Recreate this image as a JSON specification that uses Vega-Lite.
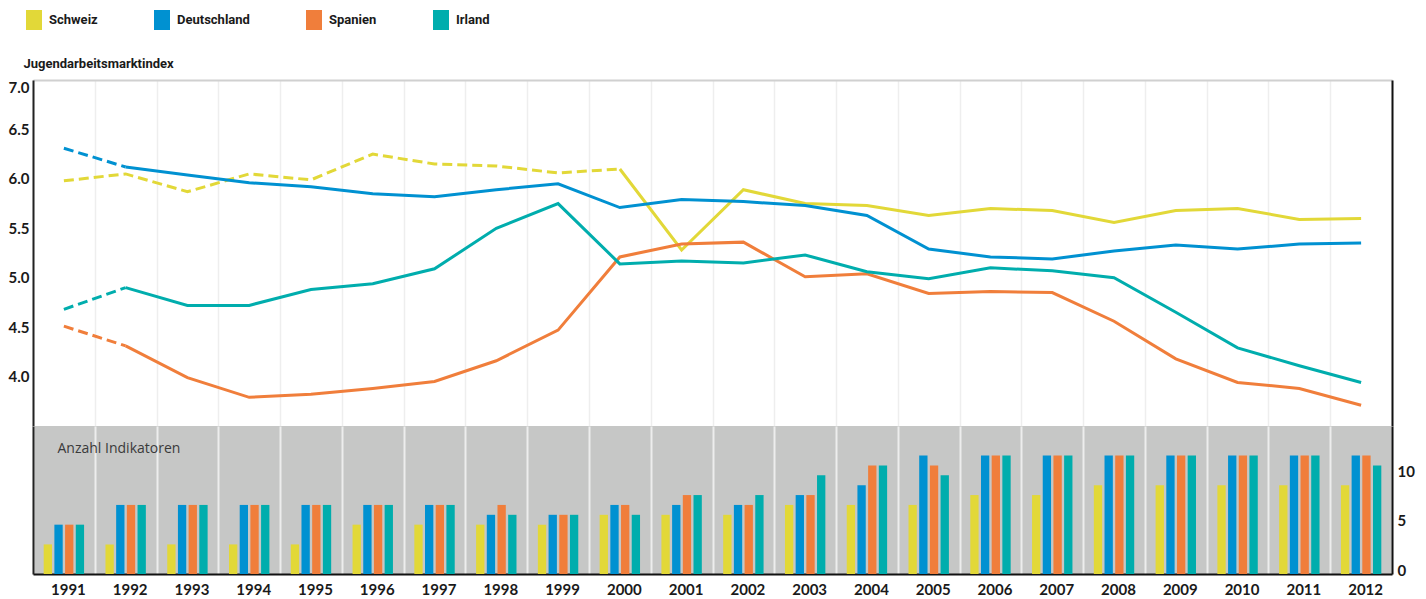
{
  "$schema": "https://vega.github.io/schema/vega-lite/v6.json",
  "padding": {"left": 8, "top": 10, "right": 11, "bottom": 2},
  "background": "white",
  "spacing": 0,
  "config": {
    "view": {"stroke": null},
    "font": "Lato",
    "axis": {"labelFont": "Lato", "labelFontWeight": "bold", "labelFontSize": 15, "labelColor": "#1a1a1a", "ticks": false, "domainColor": "#222222", "domainWidth": 2}
  },
  "datasets": {
    "index": [
      {"land": "Schweiz", "jahr": 1991, "wert": 5.98}, {"land": "Schweiz", "jahr": 1992, "wert": 6.05}, {"land": "Schweiz", "jahr": 1993, "wert": 5.87}, {"land": "Schweiz", "jahr": 1994, "wert": 6.05}, {"land": "Schweiz", "jahr": 1995, "wert": 5.99}, {"land": "Schweiz", "jahr": 1996, "wert": 6.25}, {"land": "Schweiz", "jahr": 1997, "wert": 6.15}, {"land": "Schweiz", "jahr": 1998, "wert": 6.13}, {"land": "Schweiz", "jahr": 1999, "wert": 6.06}, {"land": "Schweiz", "jahr": 2000, "wert": 6.10}, {"land": "Schweiz", "jahr": 2001, "wert": 5.28}, {"land": "Schweiz", "jahr": 2002, "wert": 5.89}, {"land": "Schweiz", "jahr": 2003, "wert": 5.75}, {"land": "Schweiz", "jahr": 2004, "wert": 5.73}, {"land": "Schweiz", "jahr": 2005, "wert": 5.63}, {"land": "Schweiz", "jahr": 2006, "wert": 5.70}, {"land": "Schweiz", "jahr": 2007, "wert": 5.68}, {"land": "Schweiz", "jahr": 2008, "wert": 5.56}, {"land": "Schweiz", "jahr": 2009, "wert": 5.68}, {"land": "Schweiz", "jahr": 2010, "wert": 5.70}, {"land": "Schweiz", "jahr": 2011, "wert": 5.59}, {"land": "Schweiz", "jahr": 2012, "wert": 5.60},
      {"land": "Deutschland", "jahr": 1991, "wert": 6.31}, {"land": "Deutschland", "jahr": 1992, "wert": 6.12}, {"land": "Deutschland", "jahr": 1993, "wert": 6.04}, {"land": "Deutschland", "jahr": 1994, "wert": 5.96}, {"land": "Deutschland", "jahr": 1995, "wert": 5.92}, {"land": "Deutschland", "jahr": 1996, "wert": 5.85}, {"land": "Deutschland", "jahr": 1997, "wert": 5.82}, {"land": "Deutschland", "jahr": 1998, "wert": 5.89}, {"land": "Deutschland", "jahr": 1999, "wert": 5.95}, {"land": "Deutschland", "jahr": 2000, "wert": 5.71}, {"land": "Deutschland", "jahr": 2001, "wert": 5.79}, {"land": "Deutschland", "jahr": 2002, "wert": 5.77}, {"land": "Deutschland", "jahr": 2003, "wert": 5.73}, {"land": "Deutschland", "jahr": 2004, "wert": 5.63}, {"land": "Deutschland", "jahr": 2005, "wert": 5.29}, {"land": "Deutschland", "jahr": 2006, "wert": 5.21}, {"land": "Deutschland", "jahr": 2007, "wert": 5.19}, {"land": "Deutschland", "jahr": 2008, "wert": 5.27}, {"land": "Deutschland", "jahr": 2009, "wert": 5.33}, {"land": "Deutschland", "jahr": 2010, "wert": 5.29}, {"land": "Deutschland", "jahr": 2011, "wert": 5.34}, {"land": "Deutschland", "jahr": 2012, "wert": 5.35},
      {"land": "Spanien", "jahr": 1991, "wert": 4.51}, {"land": "Spanien", "jahr": 1992, "wert": 4.31}, {"land": "Spanien", "jahr": 1993, "wert": 3.99}, {"land": "Spanien", "jahr": 1994, "wert": 3.79}, {"land": "Spanien", "jahr": 1995, "wert": 3.82}, {"land": "Spanien", "jahr": 1996, "wert": 3.88}, {"land": "Spanien", "jahr": 1997, "wert": 3.95}, {"land": "Spanien", "jahr": 1998, "wert": 4.16}, {"land": "Spanien", "jahr": 1999, "wert": 4.47}, {"land": "Spanien", "jahr": 2000, "wert": 5.21}, {"land": "Spanien", "jahr": 2001, "wert": 5.34}, {"land": "Spanien", "jahr": 2002, "wert": 5.36}, {"land": "Spanien", "jahr": 2003, "wert": 5.01}, {"land": "Spanien", "jahr": 2004, "wert": 5.04}, {"land": "Spanien", "jahr": 2005, "wert": 4.84}, {"land": "Spanien", "jahr": 2006, "wert": 4.86}, {"land": "Spanien", "jahr": 2007, "wert": 4.85}, {"land": "Spanien", "jahr": 2008, "wert": 4.56}, {"land": "Spanien", "jahr": 2009, "wert": 4.18}, {"land": "Spanien", "jahr": 2010, "wert": 3.94}, {"land": "Spanien", "jahr": 2011, "wert": 3.88}, {"land": "Spanien", "jahr": 2012, "wert": 3.71},
      {"land": "Irland", "jahr": 1991, "wert": 4.68}, {"land": "Irland", "jahr": 1992, "wert": 4.90}, {"land": "Irland", "jahr": 1993, "wert": 4.72}, {"land": "Irland", "jahr": 1994, "wert": 4.72}, {"land": "Irland", "jahr": 1995, "wert": 4.88}, {"land": "Irland", "jahr": 1996, "wert": 4.94}, {"land": "Irland", "jahr": 1997, "wert": 5.09}, {"land": "Irland", "jahr": 1998, "wert": 5.50}, {"land": "Irland", "jahr": 1999, "wert": 5.75}, {"land": "Irland", "jahr": 2000, "wert": 5.14}, {"land": "Irland", "jahr": 2001, "wert": 5.17}, {"land": "Irland", "jahr": 2002, "wert": 5.15}, {"land": "Irland", "jahr": 2003, "wert": 5.23}, {"land": "Irland", "jahr": 2004, "wert": 5.06}, {"land": "Irland", "jahr": 2005, "wert": 4.99}, {"land": "Irland", "jahr": 2006, "wert": 5.10}, {"land": "Irland", "jahr": 2007, "wert": 5.07}, {"land": "Irland", "jahr": 2008, "wert": 5.00}, {"land": "Irland", "jahr": 2009, "wert": 4.65}, {"land": "Irland", "jahr": 2010, "wert": 4.29}, {"land": "Irland", "jahr": 2011, "wert": 4.11}, {"land": "Irland", "jahr": 2012, "wert": 3.94}
    ],
    "indikatoren": [
      {"jahr": 1991, "land": "Schweiz", "anzahl": 3}, {"jahr": 1991, "land": "Deutschland", "anzahl": 5}, {"jahr": 1991, "land": "Spanien", "anzahl": 5}, {"jahr": 1991, "land": "Irland", "anzahl": 5},
      {"jahr": 1992, "land": "Schweiz", "anzahl": 3}, {"jahr": 1992, "land": "Deutschland", "anzahl": 7}, {"jahr": 1992, "land": "Spanien", "anzahl": 7}, {"jahr": 1992, "land": "Irland", "anzahl": 7},
      {"jahr": 1993, "land": "Schweiz", "anzahl": 3}, {"jahr": 1993, "land": "Deutschland", "anzahl": 7}, {"jahr": 1993, "land": "Spanien", "anzahl": 7}, {"jahr": 1993, "land": "Irland", "anzahl": 7},
      {"jahr": 1994, "land": "Schweiz", "anzahl": 3}, {"jahr": 1994, "land": "Deutschland", "anzahl": 7}, {"jahr": 1994, "land": "Spanien", "anzahl": 7}, {"jahr": 1994, "land": "Irland", "anzahl": 7},
      {"jahr": 1995, "land": "Schweiz", "anzahl": 3}, {"jahr": 1995, "land": "Deutschland", "anzahl": 7}, {"jahr": 1995, "land": "Spanien", "anzahl": 7}, {"jahr": 1995, "land": "Irland", "anzahl": 7},
      {"jahr": 1996, "land": "Schweiz", "anzahl": 5}, {"jahr": 1996, "land": "Deutschland", "anzahl": 7}, {"jahr": 1996, "land": "Spanien", "anzahl": 7}, {"jahr": 1996, "land": "Irland", "anzahl": 7},
      {"jahr": 1997, "land": "Schweiz", "anzahl": 5}, {"jahr": 1997, "land": "Deutschland", "anzahl": 7}, {"jahr": 1997, "land": "Spanien", "anzahl": 7}, {"jahr": 1997, "land": "Irland", "anzahl": 7},
      {"jahr": 1998, "land": "Schweiz", "anzahl": 5}, {"jahr": 1998, "land": "Deutschland", "anzahl": 6}, {"jahr": 1998, "land": "Spanien", "anzahl": 7}, {"jahr": 1998, "land": "Irland", "anzahl": 6},
      {"jahr": 1999, "land": "Schweiz", "anzahl": 5}, {"jahr": 1999, "land": "Deutschland", "anzahl": 6}, {"jahr": 1999, "land": "Spanien", "anzahl": 6}, {"jahr": 1999, "land": "Irland", "anzahl": 6},
      {"jahr": 2000, "land": "Schweiz", "anzahl": 6}, {"jahr": 2000, "land": "Deutschland", "anzahl": 7}, {"jahr": 2000, "land": "Spanien", "anzahl": 7}, {"jahr": 2000, "land": "Irland", "anzahl": 6},
      {"jahr": 2001, "land": "Schweiz", "anzahl": 6}, {"jahr": 2001, "land": "Deutschland", "anzahl": 7}, {"jahr": 2001, "land": "Spanien", "anzahl": 8}, {"jahr": 2001, "land": "Irland", "anzahl": 8},
      {"jahr": 2002, "land": "Schweiz", "anzahl": 6}, {"jahr": 2002, "land": "Deutschland", "anzahl": 7}, {"jahr": 2002, "land": "Spanien", "anzahl": 7}, {"jahr": 2002, "land": "Irland", "anzahl": 8},
      {"jahr": 2003, "land": "Schweiz", "anzahl": 7}, {"jahr": 2003, "land": "Deutschland", "anzahl": 8}, {"jahr": 2003, "land": "Spanien", "anzahl": 8}, {"jahr": 2003, "land": "Irland", "anzahl": 10},
      {"jahr": 2004, "land": "Schweiz", "anzahl": 7}, {"jahr": 2004, "land": "Deutschland", "anzahl": 9}, {"jahr": 2004, "land": "Spanien", "anzahl": 11}, {"jahr": 2004, "land": "Irland", "anzahl": 11},
      {"jahr": 2005, "land": "Schweiz", "anzahl": 7}, {"jahr": 2005, "land": "Deutschland", "anzahl": 12}, {"jahr": 2005, "land": "Spanien", "anzahl": 11}, {"jahr": 2005, "land": "Irland", "anzahl": 10},
      {"jahr": 2006, "land": "Schweiz", "anzahl": 8}, {"jahr": 2006, "land": "Deutschland", "anzahl": 12}, {"jahr": 2006, "land": "Spanien", "anzahl": 12}, {"jahr": 2006, "land": "Irland", "anzahl": 12},
      {"jahr": 2007, "land": "Schweiz", "anzahl": 8}, {"jahr": 2007, "land": "Deutschland", "anzahl": 12}, {"jahr": 2007, "land": "Spanien", "anzahl": 12}, {"jahr": 2007, "land": "Irland", "anzahl": 12},
      {"jahr": 2008, "land": "Schweiz", "anzahl": 9}, {"jahr": 2008, "land": "Deutschland", "anzahl": 12}, {"jahr": 2008, "land": "Spanien", "anzahl": 12}, {"jahr": 2008, "land": "Irland", "anzahl": 12},
      {"jahr": 2009, "land": "Schweiz", "anzahl": 9}, {"jahr": 2009, "land": "Deutschland", "anzahl": 12}, {"jahr": 2009, "land": "Spanien", "anzahl": 12}, {"jahr": 2009, "land": "Irland", "anzahl": 12},
      {"jahr": 2010, "land": "Schweiz", "anzahl": 9}, {"jahr": 2010, "land": "Deutschland", "anzahl": 12}, {"jahr": 2010, "land": "Spanien", "anzahl": 12}, {"jahr": 2010, "land": "Irland", "anzahl": 12},
      {"jahr": 2011, "land": "Schweiz", "anzahl": 9}, {"jahr": 2011, "land": "Deutschland", "anzahl": 12}, {"jahr": 2011, "land": "Spanien", "anzahl": 12}, {"jahr": 2011, "land": "Irland", "anzahl": 12},
      {"jahr": 2012, "land": "Schweiz", "anzahl": 9}, {"jahr": 2012, "land": "Deutschland", "anzahl": 12}, {"jahr": 2012, "land": "Spanien", "anzahl": 12}, {"jahr": 2012, "land": "Irland", "anzahl": 11}
    ]
  },
  "resolve": {"scale": {"color": "shared", "x": "independent", "y": "independent"}, "legend": {"color": "independent"}},
  "vconcat": [
    {
      "width": 1359,
      "height": 346,
      "data": {"name": "index"},
      "encoding": {
        "x": {"field": "jahr", "type": "ordinal", "scale": {"type": "band", "paddingInner": 0, "paddingOuter": 0},
          "axis": {"orient": "top", "title": null, "labels": false, "ticks": false, "domainColor": "#d0d0d0", "domainWidth": 2, "grid": true, "gridColor": "#eeeeee", "gridWidth": 1.5, "tickBand": "extent"}}
      },
      "layer": [
        {
          "transform": [{"filter": "datum.jahr <= (datum.land == 'Schweiz' ? 2000 : 1992)"}],
          "mark": {"type": "line", "strokeWidth": 3, "strokeDash": [10, 5]},
          "encoding": {
            "y": {"field": "wert", "type": "quantitative", "scale": {"domain": [3.5, 7], "nice": false, "zero": false},
              "axis": {"orient": "left", "values": [4, 4.5, 5, 5.5, 6, 6.5, 7], "format": ".1f", "grid": false, "labelPadding": 4, "labelFlush": true,
                "title": "Jugendarbeitsmarktindex", "titleAngle": 0, "titleAlign": "left", "titleBaseline": "alphabetic", "titleX": -10, "titleY": -13,
                "titleFont": "Roboto", "titleFontWeight": "bold", "titleFontSize": 13, "titleColor": "#1a1a1a"}},
            "color": {"field": "land", "type": "nominal",
              "scale": {"domain": ["Schweiz", "Deutschland", "Spanien", "Irland"], "range": ["#e2d838", "#0091d1", "#f07e3b", "#00adad"]},
              "legend": {"orient": "none", "legendX": -9, "legendY": -70, "direction": "horizontal", "columns": 4, "title": null, "padding": 0,
                "columnPadding": 54, "labelFont": "Roboto", "labelFontWeight": "bold", "labelFontSize": 13, "labelColor": "#1a1a1a", "labelOffset": 5,
                "symbolType": "M-0.8,-1H0.8V1H-0.8Z", "symbolSize": 400, "symbolStrokeWidth": 0,
                "encode": {"symbols": {"update": {"fill": {"scale": "color", "field": "value"}, "opacity": {"value": 1}, "strokeWidth": {"value": 0}}}}}}
          }
        },
        {
          "transform": [{"filter": "datum.jahr >= (datum.land == 'Schweiz' ? 2000 : 1992)"}],
          "mark": {"type": "line", "strokeWidth": 3},
          "encoding": {
            "y": {"field": "wert", "type": "quantitative", "scale": {"domain": [3.5, 7], "nice": false, "zero": false}, "axis": null},
            "color": {"field": "land", "type": "nominal",
              "scale": {"domain": ["Schweiz", "Deutschland", "Spanien", "Irland"], "range": ["#e2d838", "#0091d1", "#f07e3b", "#00adad"]},
              "legend": {"orient": "none", "legendX": -9, "legendY": -70, "direction": "horizontal", "columns": 4, "title": null, "padding": 0,
                "columnPadding": 54, "labelFont": "Roboto", "labelFontWeight": "bold", "labelFontSize": 13, "labelColor": "#1a1a1a", "labelOffset": 5,
                "symbolType": "M-0.8,-1H0.8V1H-0.8Z", "symbolSize": 400, "symbolStrokeWidth": 0,
                "encode": {"symbols": {"update": {"fill": {"scale": "color", "field": "value"}, "opacity": {"value": 1}, "strokeWidth": {"value": 0}}}}}}
          }
        },
        {
          "mark": {"type": "line", "opacity": 0},
          "encoding": {
            "y": {"field": "wert", "type": "quantitative", "scale": {"domain": [3.5, 7], "nice": false, "zero": false},
              "axis": {"orient": "right", "labels": false, "ticks": false, "grid": false, "title": null, "domainColor": "#111111", "domainWidth": 2}},
            "detail": {"field": "land", "type": "nominal"}
          }
        }
      ],
      "resolve": {"scale": {"y": "independent"}}
    },
    {
      "width": 1359,
      "height": 148,
      "view": {"fill": "#c6c7c6", "stroke": null},
      "data": {"name": "indikatoren"},
      "encoding": {
        "x": {"field": "jahr", "type": "ordinal", "scale": {"type": "band", "paddingInner": 0, "paddingOuter": 0},
          "axis": {"orient": "bottom", "title": null, "grid": true, "gridColor": "#ededed", "gridWidth": 2, "tickBand": "extent", "labelAngle": 0, "labelPadding": 8, "labelOffset": 4, "domainColor": "#111111", "domainWidth": 2}},
        "xOffset": {"field": "land", "type": "nominal", "sort": ["Schweiz", "Deutschland", "Spanien", "Irland"], "scale": {"paddingInner": 0.222, "paddingOuter": 1.545}},
        "color": {"field": "land", "type": "nominal",
          "scale": {"domain": ["Schweiz", "Deutschland", "Spanien", "Irland"], "range": ["#e2d838", "#0091d1", "#f07e3b", "#00adad"]},
          "legend": null}
      },
      "layer": [
        {
          "mark": {"type": "bar"},
          "encoding": {
            "y": {"field": "anzahl", "type": "quantitative", "scale": {"domain": [0, 15], "nice": false},
              "axis": {"orient": "right", "values": [0, 5, 10], "title": null, "grid": false, "labelPadding": 5, "labelBaseline": "middle", "labelOffset": -4, "domainColor": "#111111", "domainWidth": 2}}
          }
        },
        {
          "mark": {"type": "bar", "opacity": 0},
          "encoding": {
            "y": {"field": "anzahl", "type": "quantitative", "scale": {"domain": [0, 15], "nice": false},
              "axis": {"orient": "left", "labels": false, "ticks": false, "grid": false, "domainColor": "#222222", "domainWidth": 2,
                "title": "Anzahl Indikatoren", "titleAngle": 0, "titleAlign": "left", "titleBaseline": "alphabetic", "titleX": 24, "titleY": 26,
                "titleFont": "Open Sans", "titleFontWeight": "normal", "titleFontSize": 14, "titleColor": "#3a3a3a"}}
          }
        }
      ],
      "resolve": {"scale": {"y": "independent"}}
    }
  ]
}
